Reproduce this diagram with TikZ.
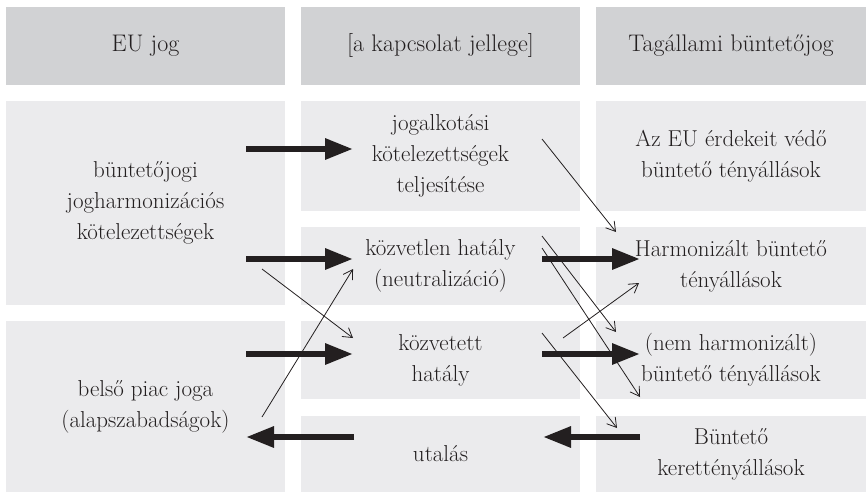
\documentclass[tikz,border=0pt]{standalone}
\usetikzlibrary{arrows.meta}

\definecolor{headgray}{RGB}{209,210,212}
\definecolor{boxgray}{RGB}{235,235,237}
\definecolor{ink}{RGB}{35,31,32}

\tikzset{every picture/.style={line width=0.75pt}}
\tikzset{
  headbox/.style={fill=headgray, inner sep=0pt, align=center, text=ink,
    font={\fontsize{24}{31}\selectfont}},
  cellbox/.style={fill=boxgray, inner sep=0pt, align=center, text=ink,
    font={\fontsize{23}{31}\selectfont}},
  fatarrow/.style={draw=ink, line width=6pt, -{Triangle[length=28pt,width=20pt]}},
  thinarrow/.style={draw=ink, line width=0.8pt, -{Straight Barb[length=9pt,width=11pt]}}
}

\begin{document}
\begin{tikzpicture}[x=1pt,y=1pt,yscale=-1,xscale=1]
\useasboundingbox (0,0) rectangle (866,492);

% Header row
\node (hEU)  [headbox, minimum width=279pt, minimum height=78pt] at (145.5,46) {EU jog};
\node (hKap) [headbox, minimum width=279pt, minimum height=78pt] at (440.5,46) {[a kapcsolat jellege]};
\node (hTag) [headbox, minimum width=270pt, minimum height=78pt] at (731,46) {Tagállami büntetőjog};

% Left column
\node (eu1) [cellbox, minimum width=279pt, minimum height=204pt] at (145.5,203) {büntetőjogi\\jogharmonizációs\\kötelezettségek};
\node (eu2) [cellbox, minimum width=279pt, minimum height=171pt] at (145.5,406.5) {belső piac joga\\(alapszabadságok)};

% Middle column
\node (k1) [cellbox, minimum width=279pt, minimum height=110pt] at (440.5,156) {jogalkotási\\kötelezettségek\\teljesítése};
\node (k2) [cellbox, minimum width=279pt, minimum height=78pt] at (440.5,266) {közvetlen hatály\\(neutralizáció)};
\node (k3) [cellbox, minimum width=279pt, minimum height=78pt] at (440.5,360) {közvetett\\hatály};
\node (k4) [cellbox, minimum width=279pt, minimum height=76pt] at (440.5,454) {utalás};

% Right column
\node (t1) [cellbox, minimum width=270pt, minimum height=110pt] at (731,156) {Az EU érdekeit védő\\büntető tényállások};
\node (t2) [cellbox, minimum width=270pt, minimum height=78pt] at (731,266) {Harmonizált büntető\\tényállások};
\node (t3) [cellbox, minimum width=270pt, minimum height=78pt] at (731,360) {(nem harmonizált)\\büntető tényállások};
\node (t4) [cellbox, minimum width=270pt, minimum height=76pt] at (731,454) {Büntető\\kerettényállások};

% Arrow ends
\coordinate (euA) at (246,149);
\coordinate (euB) at (246,259);
\coordinate (euC) at (246,354);
\coordinate (euD) at (246,437);
\coordinate (euE) at (262,269);
\coordinate (euF) at (262,417);
\coordinate (kA) at (353,149);
\coordinate (kB) at (353,259);
\coordinate (kC) at (353,354);
\coordinate (kD) at (354,437);
\coordinate (kE) at (353,338);
\coordinate (kF) at (353,269);
\coordinate (kG) at (542,139);
\coordinate (kH) at (542,259);
\coordinate (kI) at (542,354);
\coordinate (kJ) at (543,437);
\coordinate (kK) at (542,236);
\coordinate (kL) at (542,248);
\coordinate (kM) at (563,338);
\coordinate (kN) at (542,333);
\coordinate (tA) at (640,259);
\coordinate (tB) at (640,354);
\coordinate (tC) at (640,437);
\coordinate (tD) at (616,232);
\coordinate (tE) at (616,332);
\coordinate (tF) at (640,397);
\coordinate (tG) at (639,283);
\coordinate (tH) at (617,428);

% Thick arrows
\draw [fatarrow] (euA) -- (kA);
\draw [fatarrow] (euB) -- (kB);
\draw [fatarrow] (euC) -- (kC);
\draw [fatarrow] (kD) -- (euD);
\draw [fatarrow] (kH) -- (tA);
\draw [fatarrow] (kI) -- (tB);
\draw [fatarrow] (tC) -- (kJ);

% Thin arrows
\draw [thinarrow] (euE) -- (kE);
\draw [thinarrow] (euF) -- (kF);
\draw [thinarrow] (kG) -- (tD);
\draw [thinarrow] (kK) -- (tE);
\draw [thinarrow] (kL) -- (tF);
\draw [thinarrow] (kM) -- (tG);
\draw [thinarrow] (kN) -- (tH);

\end{tikzpicture}
\end{document}
